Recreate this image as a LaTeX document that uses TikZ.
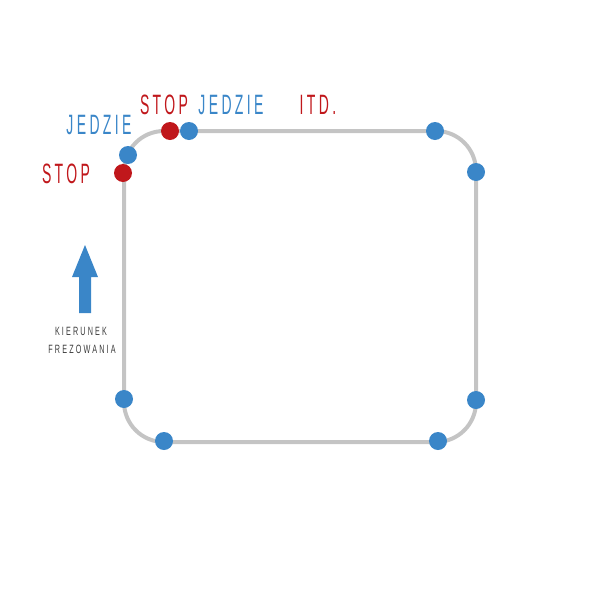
\documentclass[tikz,border=0pt]{standalone}
\usepackage{fontspec}
\newfontfamily\cond[FakeStretch=0.5,LetterSpace=12]{Liberation Sans}
\newfontfamily\condsmall[FakeStretch=0.6,LetterSpace=18]{Liberation Sans}
\usetikzlibrary{arrows.meta}
\definecolor{cblue}{HTML}{3A86C8}
\definecolor{cred}{HTML}{C0171B}
\definecolor{cgray}{HTML}{C4C4C4}
\definecolor{ctext}{HTML}{3A3A3A}
\begin{document}
\begin{tikzpicture}[x=1pt,y=-1pt,
  bdot/.style={circle,fill=cblue,inner sep=0pt,minimum size=18pt},
  rdot/.style={circle,fill=cred,inner sep=0pt,minimum size=18pt},
  big/.style={inner sep=0pt,font=\cond\fontsize{28}{28}\selectfont},
  small/.style={inner sep=0pt,text=ctext,font=\condsmall\fontsize{12}{12}\selectfont}]
\useasboundingbox (0,0) rectangle (600,600);
\draw[cgray,line width=4pt,rounded corners=40pt] (124,131) rectangle (476,442);
\node[rdot] (r1) at (170,131) {};
\node[bdot] (b1) at (189,131) {};
\node[bdot] (b2) at (128,155) {};
\node[rdot] (r2) at (123,173) {};
\node[bdot] (b3) at (435,131) {};
\node[bdot] (b4) at (476,172) {};
\node[bdot] (b5) at (476,400) {};
\node[bdot] (b6) at (438,441) {};
\node[bdot] (b7) at (164,441) {};
\node[bdot] (b8) at (124,399) {};
\node[big,text=cred] (t1) at (164,105) {STOP};
\node[big,text=cblue] (t2) at (231,105) {JEDZIE};
\node[big,text=cred] (t3) at (318,105) {ITD.};
\node[big,text=cblue] (t4) at (99,125) {JEDZIE};
\node[big,text=cred] (t5) at (66,174) {STOP};
\fill[cblue] (79,313) -- (79,277) -- (72,277) -- (85,245) -- (98,277) -- (91,277) -- (91,313) -- cycle;
\node[small] (k1) at (81,331) {KIERUNEK};
\node[small] (k2) at (82,349) {FREZOWANIA};
\end{tikzpicture}
\end{document}
